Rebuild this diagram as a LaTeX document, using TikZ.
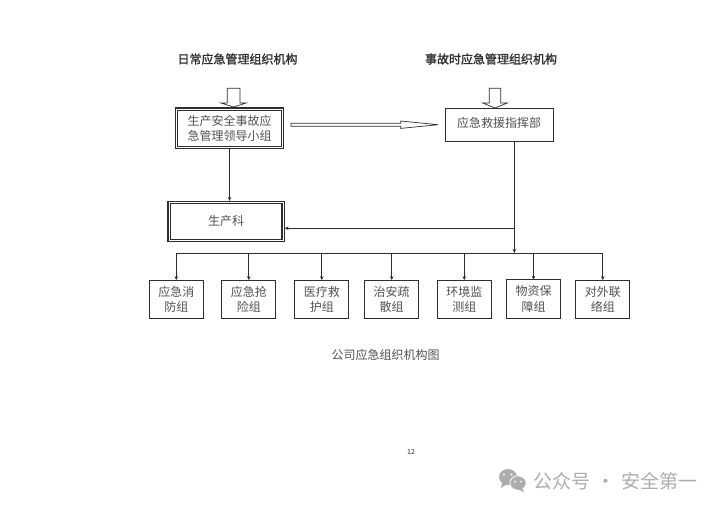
\documentclass[tikz,border=0pt]{standalone}
\usepackage{fontspec}
\setmainfont{Noto Sans CJK SC}
\usetikzlibrary{arrows.meta}
\definecolor{ink}{gray}{0.18}
\definecolor{soft}{gray}{0.32}
\definecolor{wmgray}{gray}{0.68}
\tikzset{
  x=1pt,y=-1pt,
  txt/.style={text=soft,font=\fontsize{12}{15.3}\selectfont,align=center,inner sep=0pt},
  headline/.style={text=ink,font=\fontsize{12}{15}\selectfont\addfontfeature{FakeBold=1.2},inner sep=0pt},
  boxa/.style={txt,draw=ink,line width=1pt,minimum height=38.5pt,minimum width=54pt,outer sep=0pt},
  boxd/.style={txt,draw=ink,double=white,double distance=1pt,line width=1.1pt,outer sep=1.6pt},
  conn/.style={draw=ink,line width=0.7pt},
  arr/.style={conn,-{Stealth[length=4pt,width=3.6pt]}},
  hollow/.style={draw=ink,line width=0.7pt,fill=white,line join=miter}
}
\begin{document}
\begin{tikzpicture}
\useasboundingbox (0,0) rectangle (720,509);
\fill[white] (0,0) rectangle (720,509);
\node[headline] (t1) at (237.5,59) {日常应急管理组织机构};
\node[headline] (t2) at (491,59) {事故时应急管理组织机构};
% main boxes
\node[boxd,minimum width=106pt,minimum height=38.5pt] (lead) at (229.5,128.3) {生产安全事故应\\急管理领导小组};
\node[boxd,minimum width=114pt,minimum height=38pt] (prod) at (226,221.5) {\raisebox{1.5pt}{生产科}};
\node[boxa,minimum width=108pt,minimum height=33pt] (cmd) at (499,124.5) {\raisebox{4pt}{应急救援指挥部}};
% small boxes
\node[boxa] (g1) at (176.3,299.4) {应急消\\防组};
\node[boxa] (g2) at (248.8,299.4) {应急抢\\险组};
\node[boxa] (g3) at (321.8,299.4) {医疗救\\护组};
\node[boxa] (g4) at (391.7,299.4) {治安疏\\散组};
\node[boxa] (g5) at (464.3,299.4) {环境监\\测组};
\node[boxa] (g6) at (533.5,299) {物资保\\障组};
\node[boxa] (g7) at (602.8,299.4) {对外联\\络组};
% block arrows
\draw[hollow] (227.3,88.3) -- (240,88.3) -- (240,103) -- (246,103) -- (233.7,107) -- (221,103) -- (227.3,103) -- cycle;
\draw[hollow] (489.3,88.3) -- (500.7,88.3) -- (500.7,103) -- (507.3,103) -- (495,108) -- (482.7,103) -- (489.3,103) -- cycle;
\draw[hollow] (291,123.2) -- (400.7,123.2) -- (400.7,121) -- (438,124.7) -- (400.7,128.4) -- (400.7,126.2) -- (291,126.2) -- cycle;
% connectors
\coordinate (busj) at (514.3,253);
\coordinate (cmdout) at (514.3,141);
\coordinate (retj) at (514.3,228.2);
\draw[arr] (lead.south) -- (lead.south |- prod.north);
\draw[arr] (cmdout) -- (busj);
\draw[arr] (retj) -- (prod.east |- retj);
\draw[conn] (g1.north |- busj) -- (g7.north |- busj);
\draw[arr] (g1.north |- busj) -- (g1.north);
\draw[arr] (g2.north |- busj) -- (g2.north);
\draw[arr] (g3.north |- busj) -- (g3.north);
\draw[arr] (g4.north |- busj) -- (g4.north);
\draw[arr] (g5.north |- busj) -- (g5.north);
\draw[arr] (g6.north |- busj) -- (g6.north);
\draw[arr] (g7.north |- busj) -- (g7.north);
% caption and page
\node[txt] (cap) at (385.5,354.5) {公司应急组织机构图};
\node[text=ink,font=\fontsize{7}{8}\selectfont,inner sep=0pt] (pg) at (411,452) {12};
% watermark
\fill[wmgray] (508,477) ellipse (9 and 8);
\fill[wmgray] (502,483) -- (501,488) -- (507,484) -- cycle;
\fill[white] (504,474.5) circle (1.2) (511.5,474.5) circle (1.2);
\filldraw[fill=wmgray,draw=white,line width=0.8pt] (518,483) ellipse (8.2 and 7.2);
\fill[wmgray] (522,488) -- (524,492) -- (518,489.5) -- cycle;
\fill[white] (515,481.5) circle (1) (521,481.5) circle (1);
\node[text=wmgray,font=\fontsize{19}{20}\selectfont,inner sep=0pt,anchor=west] (wm) at (533,481) {公众号\kern2pt{} · \kern2pt{}安全第一};
\end{tikzpicture}
\end{document}
